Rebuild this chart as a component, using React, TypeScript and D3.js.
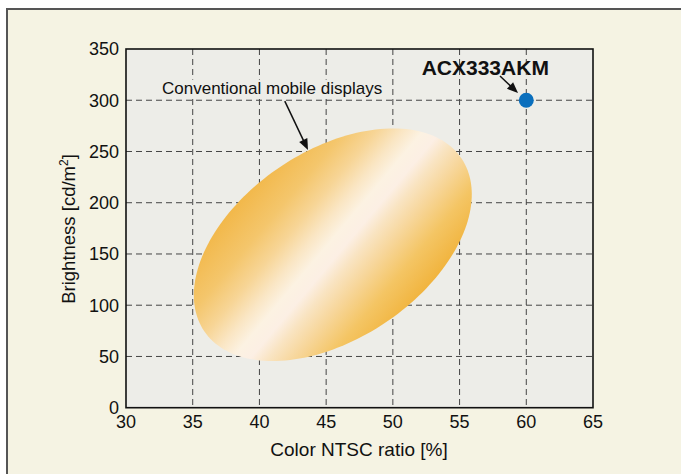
import React from "react";
import * as d3 from "d3";

const xTicks = [30, 35, 40, 45, 50, 55, 60, 65];
const yTicks = [0, 50, 100, 150, 200, 250, 300, 350];
const xDomain = [30, 65];
const yDomain = [0, 350];

// Highlighted product
const products = [{ name: "ACX333AKM", x: 60, y: 300 }];

// Region of conventional mobile displays (ellipse in data units)
const regionCenter = { x: 45.5, y: 159 };
const regionMajor = { dx: 9.65, dy: 84.1 };
const regionMinor = { dx: 3.92, dy: -76.2 };

// Annotations: label position + arrow start/end (data units)
const annotations = [
  { text: "Conventional mobile displays", tx: 32.7, ty: 306, bold: false, boxed: true, x1: 41.9, y1: 299.2, x2: 43.64, y2: 251.5 },
  { text: "ACX333AKM", tx: 52.16, ty: 324.6, bold: true, boxed: false, x1: 58.03, y1: 323.6, x2: 59.38, y2: 307 },
];

const W = 681, H = 474;
const left = 126, right = 593, top = 49, bottom = 407.7;

export default function App() {
  const x = d3.scaleLinear().domain(xDomain).range([left, right]);
  const y = d3.scaleLinear().domain(yDomain).range([bottom, top]);

  const ts = d3.range(0, 2 * Math.PI + 0.001, Math.PI / 90);
  const ellPts: [number, number][] = ts.map((t) => [
    regionCenter.x + regionMajor.dx * Math.cos(t) + regionMinor.dx * Math.sin(t),
    regionCenter.y + regionMajor.dy * Math.cos(t) + regionMinor.dy * Math.sin(t),
  ]);
  const ellPath = d3.line().x((d) => x(d[0])).y((d) => y(d[1])).curve(d3.curveLinearClosed)(ellPts) || "";

  const cx = x(regionCenter.x), cy = y(regionCenter.y);
  const gdx = 0.766 * 100, gdy = 0.643 * 100;

  const font = "Liberation Sans, Arial, sans-serif";

  const arrowHead = (x1: number, y1: number, x2: number, y2: number) => {
    const ang = Math.atan2(y2 - y1, x2 - x1);
    const L = 11, Wd = 4.5;
    const bx = x2 - L * Math.cos(ang), by = y2 - L * Math.sin(ang);
    const px = -Math.sin(ang), py = Math.cos(ang);
    return `M${x2},${y2}L${bx + px * Wd},${by + py * Wd}L${bx - px * Wd},${by - py * Wd}Z`;
  };

  return (
    <svg width={W} height={H} style={{ position: "absolute", left: 0, top: 0 }} fontFamily={font}>
      <defs>
        <linearGradient id="ellGrad" gradientUnits="userSpaceOnUse" x1={cx - gdx} y1={cy - gdy} x2={cx + gdx} y2={cy + gdy}>
          <stop offset="0" stopColor="#f2b84a" />
          <stop offset="0.18" stopColor="#f4c66c" />
          <stop offset="0.3" stopColor="#f7d596" />
          <stop offset="0.4" stopColor="#fae6c4" />
          <stop offset="0.48" stopColor="#fcf2e2" />
          <stop offset="0.55" stopColor="#fcefe4" />
          <stop offset="0.62" stopColor="#f9e4c2" />
          <stop offset="0.72" stopColor="#f7d69a" />
          <stop offset="0.85" stopColor="#f4c564" />
          <stop offset="1" stopColor="#f1b43e" />
        </linearGradient>
      </defs>
      <rect x={0} y={0} width={W} height={H} fill="#ffffff" />
      <rect x={6} y={8} width={W - 6} height={H - 8} fill="#f5f3e3" />
      <line x1={6} y1={9} x2={W} y2={9} stroke="#555" strokeWidth={2} />
      <line x1={7} y1={8} x2={7} y2={H} stroke="#555" strokeWidth={2} />

      <rect x={left} y={top} width={right - left} height={bottom - top} fill="#ededE8" />

      {xTicks.slice(1, -1).map((t) => (
        <line key={"gx" + t} x1={x(t)} x2={x(t)} y1={top} y2={bottom} stroke="#444" strokeWidth={1} strokeDasharray="6,4" />
      ))}
      {yTicks.slice(1, -1).map((t) => (
        <line key={"gy" + t} x1={left} x2={right} y1={y(t)} y2={y(t)} stroke="#444" strokeWidth={1} strokeDasharray="6,4" />
      ))}

      <path d={ellPath} fill="url(#ellGrad)" />

      <rect x={left} y={top} width={right - left} height={bottom - top} fill="none" stroke="#111" strokeWidth={1.6} />

      {products.map((p) => (
        <circle key={p.name} cx={x(p.x)} cy={y(p.y)} r={7.5} fill="#0a6fbd" />
      ))}

      {annotations.map((a) => {
        const X1 = x(a.x1), Y1 = y(a.y1), X2 = x(a.x2), Y2 = y(a.y2);
        const ang = Math.atan2(Y2 - Y1, X2 - X1);
        const fs = a.bold ? 21 : 17;
        return (
          <g key={a.text}>
            {a.boxed && (
              <rect x={x(a.tx) - 3} y={y(a.ty) - fs * 0.85} width={229} height={fs * 1.1} fill="#ededE8" />
            )}
            <text x={x(a.tx)} y={y(a.ty)} fontSize={fs} fontWeight={a.bold ? "bold" : "normal"} fill="#111">
              {a.text}
            </text>
            <line x1={X1} y1={Y1} x2={X2 - 9 * Math.cos(ang)} y2={Y2 - 9 * Math.sin(ang)} stroke="#111" strokeWidth={1.5} />
            <path d={arrowHead(X1, Y1, X2, Y2)} fill="#111" />
          </g>
        );
      })}

      {yTicks.map((t) => (
        <text key={"ty" + t} x={119} y={y(t)} dy="0.35em" textAnchor="end" fontSize={18} fill="#111">
          {t}
        </text>
      ))}
      {xTicks.map((t) => (
        <text key={"tx" + t} x={x(t)} y={428} textAnchor="middle" fontSize={18} fill="#111">
          {t}
        </text>
      ))}
      <text x={359} y={456} textAnchor="middle" fontSize={19} fill="#111">
        Color NTSC ratio [%]
      </text>
      <text transform={`translate(75,229) rotate(-90)`} textAnchor="middle" fontSize={18.5} fill="#111">
        Brightness [cd/m<tspan dy="-7" fontSize={12}>2</tspan><tspan dy="7">]</tspan>
      </text>
    </svg>
  );
}
